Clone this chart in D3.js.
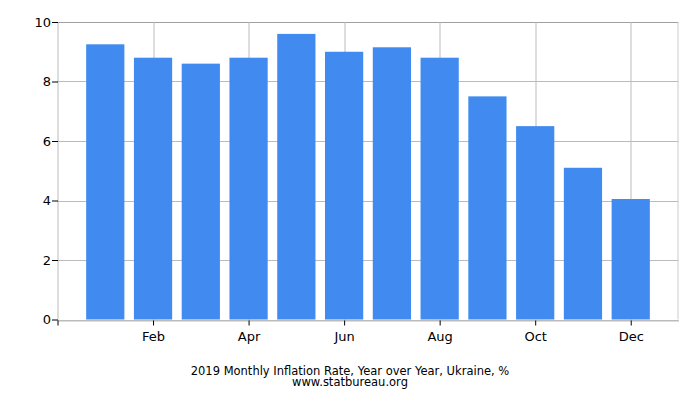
<!DOCTYPE html>
<html>
<head>
<meta charset="utf-8">
<script src="https://cdn.jsdelivr.net/npm/d3@7"></script>
<style>
body { margin: 0; background: #fff; }
text { font-family: "DejaVu Sans", sans-serif; }
</style>
</head>
<body>
<script>
var width = 700;
var height = 400;
var margin = { top: 22, right: 21.5, bottom: 80.5, left: 57.5 };
var w = width - margin.left - margin.right;
var h = height - margin.top - margin.bottom;

var months = ["Jan", "Feb", "Mar", "Apr", "May", "Jun", "Jul", "Aug", "Sep", "Oct", "Nov", "Dec"];
var values = [9.25, 8.8, 8.6, 8.8, 9.6, 9.0, 9.15, 8.8, 7.5, 6.5, 5.1, 4.05];
var yTicks = [0, 2, 4, 6, 8, 10];
var xTickMonths = ["Feb", "Apr", "Jun", "Aug", "Oct", "Dec"];
var title = "2019 Monthly Inflation Rate, Year over Year, Ukraine, %";
var source = "www.statbureau.org";

var svg = d3.select("body").append("svg")
    .attr("width", width)
    .attr("height", height);

var chart = svg.append("g")
    .attr("transform", "translate(" + margin.left + "," + margin.top + ")");

// months sit at 1..12 on a 0..13 scale
var x = d3.scaleLinear()
    .domain([0, 13])
    .range([0, w]);
var step = x(1) - x(0);

var y = d3.scaleLinear()
    .domain([0, 10])
    .range([h, 0]);

// grid
chart.append("g")
    .selectAll("line")
    .data(yTicks)
    .enter().append("line")
    .attr("x1", 0)
    .attr("x2", w)
    .attr("y1", function (d) { return Math.round(y(d)) + 0.5; })
    .attr("y2", function (d) { return Math.round(y(d)) + 0.5; })
    .style("stroke", function (d) { return d == 10 ? "#a0a0a0" : "#bbbbbb"; })
    .style("stroke-width", 1);

chart.append("g")
    .selectAll("line")
    .data(xTickMonths)
    .enter().append("line")
    .attr("x1", function (d) { return Math.round(x(months.indexOf(d) + 1)) + 0.5; })
    .attr("x2", function (d) { return Math.round(x(months.indexOf(d) + 1)) + 0.5; })
    .attr("y1", 0)
    .attr("y2", h)
    .style("stroke", "#bbbbbb");

// frame sides
chart.append("line")
    .attr("x1", 0.5).attr("x2", 0.5).attr("y1", 0).attr("y2", h)
    .style("stroke", "#bbbbbb");
chart.append("line")
    .attr("x1", Math.round(w) - 0.5).attr("x2", Math.round(w) - 0.5).attr("y1", 0).attr("y2", h)
    .style("stroke", "#cccccc");

// bars
chart.append("g")
    .selectAll("rect")
    .data(values)
    .enter().append("rect")
    .attr("x", function (d, i) { return x(i + 1) - step * 0.4; })
    .attr("width", step * 0.8)
    .attr("y", function (d) { return y(d); })
    .attr("height", function (d) { return h - y(d); })
    .style("fill", "#418bf0");

// x axis
var xAxis = d3.axisBottom(x)
    .tickValues(xTickMonths.map(function (m) { return months.indexOf(m) + 1; }))
    .tickFormat(function (d) { return months[d - 1]; })
    .tickSize(5)
    .tickSizeOuter(0);

var gx = chart.append("g")
    .attr("transform", "translate(0," + (Math.round(h) + 0.5) + ")")
    .call(xAxis);
gx.select(".domain").style("stroke", "#bbbbbb");
gx.selectAll(".tick line").style("stroke", "#000");
gx.selectAll(".tick text")
    .attr("y", 11)
    .style("font-size", "13px")
    .style("font-family", "DejaVu Sans, sans-serif")
    .style("fill", "#000");
// tick at left end of x axis
gx.append("line")
    .attr("x1", 0.5).attr("x2", 0.5).attr("y1", 0).attr("y2", 5)
    .style("stroke", "#000");

// y axis
var yAxis = d3.axisLeft(y)
    .tickValues(yTicks)
    .tickSize(6)
    .tickSizeOuter(0);

var gy = chart.append("g")
    .attr("transform", "translate(0.5,0)")
    .call(yAxis);
gy.select(".domain").remove();
gy.selectAll(".tick line").style("stroke", "#000");
gy.selectAll(".tick text")
    .attr("x", -7)
    .style("font-size", "13px")
    .style("font-family", "DejaVu Sans, sans-serif")
    .style("fill", "#000");

// titles
svg.append("text")
    .attr("x", 350)
    .attr("y", 375)
    .style("text-anchor", "middle")
    .style("font-size", "11.5px")
    .text(title);

svg.append("text")
    .attr("x", 350)
    .attr("y", 386)
    .style("text-anchor", "middle")
    .style("font-size", "11.5px")
    .text(source);
</script>
</body>
</html>
